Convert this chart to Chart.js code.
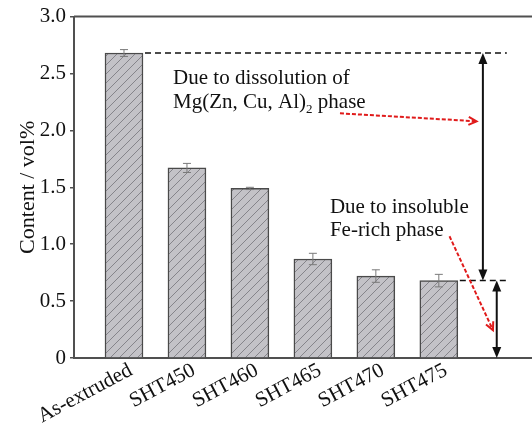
<!DOCTYPE html>
<html>
<head>
<meta charset="utf-8">
<script src="https://cdn.jsdelivr.net/npm/chart.js@4/dist/chart.umd.min.js"></script>
<style>
  html, body { margin: 0; padding: 0; background: #fff; }
</style>
</head>
<body>
<canvas id="chart" width="532" height="423"></canvas>
<script>
const categories = ['As-extruded', 'SHT450', 'SHT460', 'SHT465', 'SHT470', 'SHT475'];
const content = [2.68, 1.67, 1.49, 0.87, 0.72, 0.68];
const errors = [0.03, 0.04, 0.01, 0.05, 0.055, 0.055];
const yTicks = [0, 0.5, 1.0, 1.5, 2.0, 2.5, 3.0];

const serif = 'Liberation Serif';

// hatched grey fill for the bars
function hatch() {
  const c = document.createElement('canvas');
  c.width = 9; c.height = 9;
  const g = c.getContext('2d');
  g.fillStyle = '#c3c2c7';
  g.fillRect(0, 0, 9, 9);
  g.strokeStyle = '#85848a';
  g.lineWidth = 1;
  g.beginPath();
  g.moveTo(-1, 10); g.lineTo(10, -1);
  g.moveTo(-5, 5); g.lineTo(5, -5);
  g.moveTo(4, 14); g.lineTo(14, 4);
  g.stroke();
  return g.createPattern(c, 'repeat');
}

function head(ctx, x1, y1, x2, y2, len, half, filled) {
  const a = Math.atan2(y2 - y1, x2 - x1);
  const bx = x2 - len * Math.cos(a), by = y2 - len * Math.sin(a);
  const nx = -Math.sin(a) * half, ny = Math.cos(a) * half;
  ctx.beginPath();
  ctx.moveTo(bx + nx, by + ny);
  ctx.lineTo(x2, y2);
  ctx.lineTo(bx - nx, by - ny);
  if (filled) { ctx.closePath(); ctx.fill(); } else { ctx.stroke(); }
}

const extras = {
  id: 'extras',
  afterDatasetsDraw(chart) {
    const { ctx, chartArea, scales: { x, y } } = chart;
    ctx.save();

    // error bars
    ctx.strokeStyle = '#7a7a7a';
    ctx.lineWidth = 1;
    content.forEach((v, i) => {
      const px = x.getPixelForValue(i + 1);
      const t = y.getPixelForValue(v + errors[i]);
      const b = y.getPixelForValue(v - errors[i]);
      ctx.beginPath();
      ctx.moveTo(px, t); ctx.lineTo(px, b);
      ctx.moveTo(px - 4, t); ctx.lineTo(px + 4, t);
      ctx.moveTo(px - 4, b); ctx.lineTo(px + 4, b);
      ctx.stroke();
    });

    // top frame line
    ctx.strokeStyle = '#505050';
    ctx.lineWidth = 2;
    ctx.beginPath();
    ctx.moveTo(chartArea.left, chartArea.top);
    ctx.lineTo(chartArea.right, chartArea.top);
    ctx.stroke();

    // black dashed reference lines
    const hi = y.getPixelForValue(content[0]);
    const lo = y.getPixelForValue(content[5]);
    const xEnd = x.getPixelForValue(7.08);
    ctx.strokeStyle = '#111';
    ctx.lineWidth = 1.5;
    ctx.setLineDash([6, 4]);
    ctx.beginPath();
    ctx.moveTo(x.getPixelForValue(1) + 21, hi); ctx.lineTo(xEnd, hi);
    ctx.moveTo(x.getPixelForValue(6) + 21, lo); ctx.lineTo(xEnd, lo);
    ctx.stroke();
    ctx.setLineDash([]);

    // black double arrows
    const bottom = y.getPixelForValue(0);
    ctx.fillStyle = '#111';
    ctx.lineWidth = 2;
    const a1 = x.getPixelForValue(6.70);
    ctx.beginPath(); ctx.moveTo(a1, hi + 8); ctx.lineTo(a1, lo - 8); ctx.stroke();
    head(ctx, a1, lo, a1, hi, 11, 4.5, true);
    head(ctx, a1, hi, a1, lo, 11, 4.5, true);
    const a2 = x.getPixelForValue(6.92);
    ctx.beginPath(); ctx.moveTo(a2, lo + 8); ctx.lineTo(a2, bottom - 8); ctx.stroke();
    head(ctx, a2, bottom, a2, lo, 11, 4.5, true);
    head(ctx, a2, lo, a2, bottom, 11, 4.5, true);

    // red dashed pointers
    ctx.strokeStyle = '#e01b1b';
    ctx.lineWidth = 2;
    const reds = [[4.43, 2.15, 6.60, 2.08], [6.17, 1.07, 6.86, 0.245]];
    reds.forEach(([x1, y1, x2, y2]) => {
      const p1x = x.getPixelForValue(x1), p1y = y.getPixelForValue(y1);
      const p2x = x.getPixelForValue(x2), p2y = y.getPixelForValue(y2);
      ctx.setLineDash([4, 2]);
      ctx.beginPath(); ctx.moveTo(p1x, p1y); ctx.lineTo(p2x, p2y); ctx.stroke();
      ctx.setLineDash([]);
      head(ctx, p1x, p1y, p2x, p2y, 8, 4, false);
    });

    // text notes
    ctx.fillStyle = '#111';
    ctx.textBaseline = 'middle';
    ctx.textAlign = 'left';
    ctx.font = '21px "' + serif + '"';
    const tx = x.getPixelForValue(1.78);
    ctx.fillText('Due to dissolution of', tx, y.getPixelForValue(2.456));
    const ly = y.getPixelForValue(2.246);
    const part1 = 'Mg(Zn, Cu, Al)';
    ctx.fillText(part1, tx, ly);
    let cx = tx + ctx.measureText(part1).width;
    ctx.font = '13px "' + serif + '"';
    ctx.fillText('2', cx, ly + 7);
    cx += ctx.measureText('2').width;
    ctx.font = '21px "' + serif + '"';
    ctx.fillText(' phase', cx, ly);
    const tx2 = x.getPixelForValue(4.27);
    ctx.fillText('Due to insoluble', tx2, y.getPixelForValue(1.325));
    ctx.fillText('Fe-rich phase', tx2, y.getPixelForValue(1.12));

    ctx.restore();
  }
};

const ctx = document.getElementById('chart').getContext('2d');
new Chart(ctx, {
  type: 'bar',
  data: {
    datasets: [{
      data: content.map((v, i) => ({ x: i + 1, y: v })),
      backgroundColor: hatch(),
      borderColor: '#4a4a4a',
      borderWidth: 1.5,
      borderSkipped: 'bottom',
      barThickness: 38
    }]
  },
  options: {
    responsive: false,
    animation: false,
    layout: { padding: { top: 15, right: 0, left: 0, bottom: 0 } },
    plugins: { legend: { display: false }, tooltip: { enabled: false } },
    scales: {
      x: {
        type: 'linear',
        offset: false,
        bounds: 'data',
        min: 0.206,
        max: 7.48,
        afterBuildTicks: (s) => { s.ticks = categories.map((c, i) => ({ value: i + 1 })); },
        afterFit: (s) => { s.height = 65; },
        grid: { display: false, drawTicks: false },
        border: { display: true, color: '#505050', width: 2 },
        ticks: {
          autoSkip: false,
          minRotation: 28,
          maxRotation: 28,
          padding: 0,
          labelOffset: 7,
          color: '#111',
          font: { family: serif, size: 21 },
          callback: (v) => categories[v - 1]
        }
      },
      y: {
        min: 0,
        max: 3,
        afterBuildTicks: (s) => { s.ticks = yTicks.map(v => ({ value: v })); },
        afterFit: (s) => { s.width = 74; },
        grid: { display: true, drawOnChartArea: false, drawTicks: true, tickLength: 4, color: '#505050', lineWidth: 1.5 },
        border: { display: true, color: '#505050', width: 2 },
        ticks: {
          padding: 4,
          color: '#111',
          font: { family: serif, size: 21 },
          callback: (v) => v === 0 ? '0' : v.toFixed(1)
        },
        title: {
          display: true,
          text: 'Content / vol%',
          color: '#111',
          font: { family: serif, size: 22 },
          padding: { top: 15, bottom: 0 }
        }
      }
    }
  },
  plugins: [extras]
});
</script>
</body>
</html>
